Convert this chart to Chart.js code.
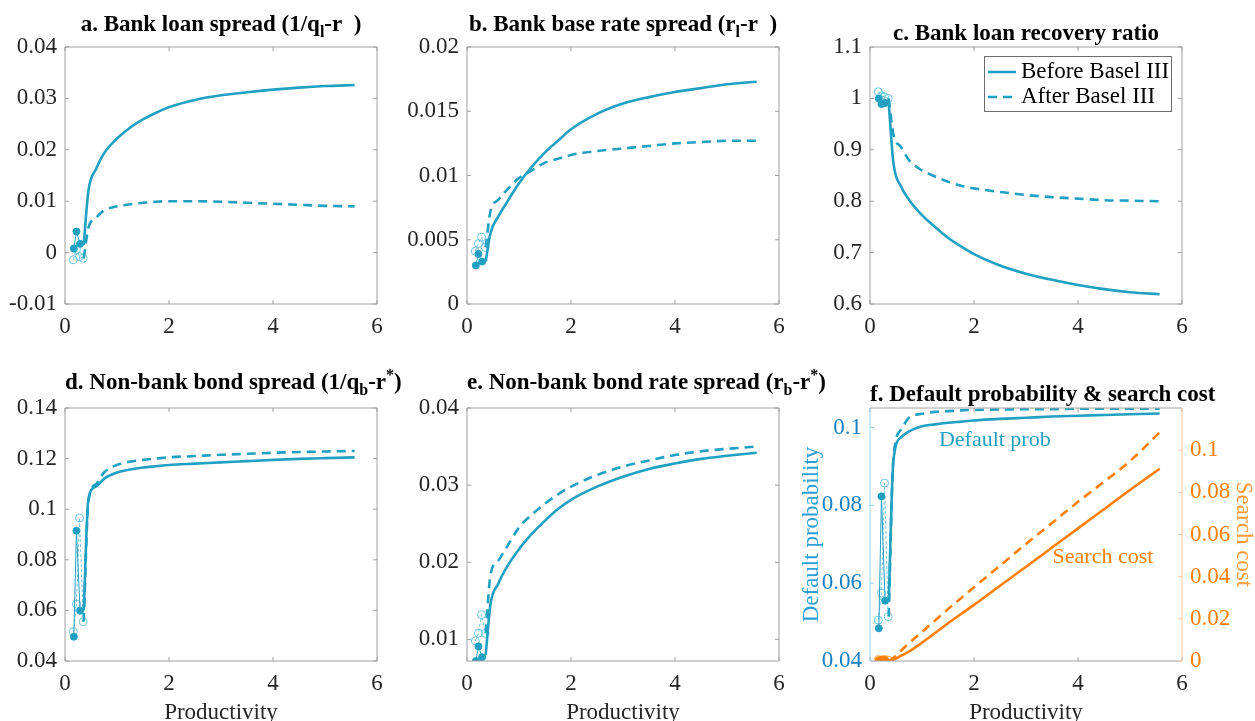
<!DOCTYPE html>
<html>
<head>
<meta charset="utf-8">
<script src="https://cdn.jsdelivr.net/npm/chart.js@4.4.1/dist/chart.umd.min.js"></script>
<style>
html, body { margin: 0; padding: 0; background: #fff; overflow: hidden; width: 1255px; height: 721px; }
canvas { position: absolute; }
.ttl { position: absolute; text-align: center; font: bold 23px "Liberation Serif", serif; color: #000; white-space: nowrap; line-height: 26px; }
.ttl sub, .ttl sup { font-size: 16px; line-height: 0; }
</style>
</head>
<body>
<script>
// productivity grid of the model curves
const prod = [0.36, 0.45, 0.6, 0.75, 1, 1.25, 1.5, 1.75, 2, 2.5, 3, 3.5, 4, 4.5, 5, 5.57];
// low productivity (multiple equilibria) points
const markXBefore = [0.17, 0.22, 0.29];
const markXAfter = [0.16, 0.22, 0.28, 0.35];
const xTicks = [0, 2, 4, 6];

// a. bank loan spread
const loanSpreadBefore = [0.0015, 0.012, 0.0163, 0.0193, 0.0222, 0.0243, 0.0259, 0.0272, 0.0283, 0.0297, 0.0306, 0.0312, 0.0317, 0.0321, 0.0324, 0.0326];
const loanSpreadAfter = [-0.0011, 0.0048, 0.0068, 0.0082, 0.009, 0.0094, 0.0097, 0.0099, 0.01, 0.01, 0.0099, 0.0097, 0.0095, 0.0093, 0.0091, 0.009];
const loanSpreadMarkBefore = [0.0008, 0.0041, 0.0017];
const loanSpreadMarkAfter = [-0.0014, 0.0006, -0.0008, -0.0011];
const loanSpreadTicks = [-0.01, 0, 0.01, 0.02, 0.03, 0.04];

// b. bank base rate spread
const baseRateBefore = [0.0033, 0.0055, 0.0068, 0.0078, 0.0094, 0.0107, 0.0118, 0.0127, 0.0136, 0.0148, 0.0156, 0.0161, 0.0165, 0.0168, 0.0171, 0.0173];
const baseRateAfter = [0.0044, 0.0072, 0.0081, 0.0088, 0.0098, 0.0104, 0.011, 0.0113, 0.0116, 0.0119, 0.0121, 0.0123, 0.0125, 0.0126, 0.0127, 0.0127];
const baseRateMarkBefore = [0.003, 0.0039, 0.0033];
const baseRateMarkAfter = [0.0041, 0.0047, 0.0052, 0.0044];
const baseRateTicks = [0, 0.005, 0.01, 0.015, 0.02];

// c. bank loan recovery ratio
const recoveryBefore = [0.991, 0.875, 0.828, 0.803, 0.773, 0.75, 0.729, 0.712, 0.697, 0.675, 0.659, 0.647, 0.637, 0.629, 0.623, 0.619];
const recoveryAfter = [1.0, 0.93, 0.905, 0.88, 0.86, 0.848, 0.838, 0.83, 0.825, 0.818, 0.812, 0.808, 0.805, 0.802, 0.801, 0.8];
const recoveryMarkBefore = [1.0, 0.989, 0.991];
const recoveryMarkAfter = [1.013, 1.005, 1.003, 1.0];
const recoveryTicks = [0.6, 0.7, 0.8, 0.9, 1, 1.1];

// d. non-bank bond spread
const bondSpreadBefore = [0.06, 0.104, 0.109, 0.112, 0.1145, 0.1157, 0.1165, 0.117, 0.1175, 0.118, 0.1185, 0.119, 0.1195, 0.1199, 0.1202, 0.1205];
const bondSpreadAfter = [0.0555, 0.103, 0.11, 0.1145, 0.1175, 0.1188, 0.1195, 0.12, 0.1205, 0.121, 0.1215, 0.1219, 0.1223, 0.1226, 0.1228, 0.123];
const bondSpreadMarkBefore = [0.0496, 0.0915, 0.0599];
const bondSpreadMarkAfter = [0.0516, 0.0625, 0.0965, 0.0555];
const bondSpreadTicks = [0.04, 0.06, 0.08, 0.1, 0.12, 0.14];

// e. non-bank bond rate spread
const bondRateBefore = [0.008, 0.0145, 0.0172, 0.0192, 0.0217, 0.0237, 0.0254, 0.0269, 0.0281, 0.0298, 0.0311, 0.0321, 0.0328, 0.0334, 0.0338, 0.0342];
const bondRateAfter = [0.0108, 0.0183, 0.0202, 0.0218, 0.0245, 0.0262, 0.0276, 0.0288, 0.0298, 0.0313, 0.0324, 0.0332, 0.0339, 0.0344, 0.0347, 0.035];
const bondRateMarkBefore = [0.0072, 0.0091, 0.0077];
const bondRateMarkAfter = [0.0098, 0.0108, 0.0132, 0.0108];
const bondRateTicks = [0.01, 0.02, 0.03, 0.04];

// f. default probability & search cost
const defaultBefore = [0.0555, 0.0915, 0.0975, 0.099, 0.1003, 0.1008, 0.1012, 0.1015, 0.1018, 0.1022, 0.1025, 0.1028, 0.103, 0.1032, 0.1034, 0.1036];
const defaultAfter = [0.0514, 0.092, 0.0995, 0.1025, 0.1035, 0.104, 0.1042, 0.1044, 0.1045, 0.1046, 0.1047, 0.1047, 0.1048, 0.1048, 0.1048, 0.1048];
const defaultMarkBefore = [0.0484, 0.0823, 0.0555];
const defaultMarkAfter = [0.0505, 0.0575, 0.0857, 0.0514];
const defaultTicks = [0.04, 0.06, 0.08, 0.1];
const searchBefore = [0, 0.0005, 0.0025, 0.0045, 0.0087, 0.0133, 0.0179, 0.0223, 0.0266, 0.0357, 0.0447, 0.0538, 0.0629, 0.072, 0.0811, 0.0912];
const searchAfter = [0, 0.0015, 0.005, 0.0085, 0.0138, 0.0192, 0.0246, 0.0298, 0.035, 0.0452, 0.0555, 0.0655, 0.0755, 0.085, 0.0948, 0.1085];
const searchMarkBefore = [0.0004, 0.0006, 0.0005];
const searchMarkAfter = [0.0007, 0.0005, 0.0008, 0.0004];
const searchTicks = [0, 0.02, 0.04, 0.06, 0.08, 0.1];

const TEAL = '#22A0C2', TEAL_LIGHT = '#6CC5E0';
const ORANGE = '#FF8000', ORANGE_LIGHT = '#FFAA55';
const AXIS = '#A0A0A0', TXT = '#262626';
const SERIF = '"Liberation Serif", "Times New Roman", serif';
const tickFont = { family: SERIF, size: 23 };

const pts = (xs, ys) => xs.map((x, i) => ({ x: x, y: ys[i] }));
const fmt = v => String(parseFloat(Number(v).toFixed(4)));

function seriesSets(before, after, markB, markA, col, colLight, axis) {
  return [
    { label: 'Before Basel III', data: pts(prod, before), borderColor: col, borderWidth: 2.6,
      pointRadius: 0, cubicInterpolationMode: 'monotone', yAxisID: axis },
    { label: 'After Basel III', data: pts(prod, after), borderColor: col, borderWidth: 2.6, borderDash: [9, 6],
      pointRadius: 0, cubicInterpolationMode: 'monotone', yAxisID: axis },
    { label: 'low before', data: pts(markXBefore, markB).concat([{ x: prod[0], y: before[0] }]),
      borderColor: col, borderWidth: 1, pointRadius: [3.5, 3.5, 3.5, 0],
      pointBackgroundColor: col, pointBorderColor: col, yAxisID: axis },
    { label: 'low after', data: pts(markXAfter, markA), borderColor: colLight, borderWidth: 1, borderDash: [3, 2],
      pointRadius: 4, pointBackgroundColor: 'rgba(255,255,255,0)', pointBorderColor: colLight,
      pointBorderWidth: 1, yAxisID: axis }
  ];
}

function line(ctx, x1, y1, x2, y2) {
  ctx.beginPath(); ctx.moveTo(x1, y1); ctx.lineTo(x2, y2); ctx.stroke();
}

// matlab style box with inward ticks
const boxPlugin = {
  id: 'matBox',
  afterDatasetsDraw(chart, args, o) {
    const { ctx, chartArea: a, scales } = chart;
    const tl = 4;
    ctx.save();
    ctx.lineWidth = 1;
    ctx.strokeStyle = AXIS;
    line(ctx, a.left, a.top, a.right, a.top);
    line(ctx, a.left, a.bottom, a.right, a.bottom);
    for (const t of scales.x.ticks) {
      const x = scales.x.getPixelForValue(t.value);
      line(ctx, x, a.bottom, x, a.bottom - tl);
      line(ctx, x, a.top, x, a.top + tl);
    }
    ctx.strokeStyle = o.leftColor || AXIS;
    line(ctx, a.left, a.top, a.left, a.bottom);
    for (const t of scales.y.ticks) {
      const y = scales.y.getPixelForValue(t.value);
      line(ctx, a.left, y, a.left + tl, y);
      if (!scales.y2) line(ctx, a.right, y, a.right - tl, y);
    }
    ctx.strokeStyle = o.rightColor || AXIS;
    line(ctx, a.right, a.top, a.right, a.bottom);
    if (scales.y2) {
      for (const t of scales.y2.ticks) {
        const y = scales.y2.getPixelForValue(t.value);
        line(ctx, a.right, y, a.right - tl, y);
      }
    }
    ctx.restore();
  }
};

// boxed legend inside the axes (top right)
const legendPlugin = {
  id: 'boxLegend',
  afterDraw(chart, args, o) {
    if (!o.show) return;
    const { ctx, chartArea: a } = chart;
    const w = 187, h = 55, x0 = a.right - 11 - w, y0 = a.top + 9;
    ctx.save();
    ctx.fillStyle = '#fff';
    ctx.fillRect(x0, y0, w, h);
    ctx.strokeStyle = '#6E6E6E';
    ctx.lineWidth = 1;
    ctx.strokeRect(x0 + 0.5, y0 + 0.5, w, h);
    chart.data.datasets.slice(0, 2).forEach((ds, i) => {
      const cy = y0 + 16 + i * 25;
      ctx.strokeStyle = ds.borderColor;
      ctx.lineWidth = ds.borderWidth;
      ctx.setLineDash(ds.borderDash || []);
      line(ctx, x0 + 4, cy, x0 + 32, cy);
      ctx.setLineDash([]);
      ctx.fillStyle = '#000';
      ctx.font = '23px ' + SERIF;
      ctx.textBaseline = 'middle';
      ctx.fillText(ds.label, x0 + 37, cy);
    });
    ctx.restore();
  }
};

// text notes placed in data coordinates
const notePlugin = {
  id: 'notes',
  afterDatasetsDraw(chart, args, o) {
    if (!o.items) return;
    const { ctx, scales } = chart;
    ctx.save();
    ctx.font = '22px ' + SERIF;
    ctx.textAlign = 'center';
    ctx.textBaseline = 'middle';
    for (const n of o.items) {
      ctx.fillStyle = n.color;
      ctx.fillText(n.text, scales.x.getPixelForValue(n.x), scales[n.axis].getPixelForValue(n.y));
    }
    ctx.restore();
  }
};

Chart.register(boxPlugin, legendPlugin, notePlugin);

function yScale(min, max, ticks, width, pos, color, title, titleColor) {
  return {
    type: 'linear', position: pos, min: min, max: max,
    afterBuildTicks: s => { s.ticks = ticks.map(v => ({ value: v })); },
    afterFit: s => { s.width = width; },
    ticks: { font: tickFont, color: color, padding: 8, autoSkip: false, callback: fmt },
    grid: { display: false, drawTicks: false }, border: { display: false },
    title: { display: !!title, text: title || '', color: titleColor, font: tickFont, padding: { top: 4, bottom: 4 } }
  };
}

function panel(p) {
  const padTop = 30, padRight = p.rW ? 0 : 16;
  const [bl, bt, br, bb] = p.box;
  const c = document.createElement('canvas');
  c.width = br - bl + p.yW + (p.rW || padRight);
  c.height = bb - bt + padTop + p.xH;
  c.style.left = (bl - p.yW) + 'px';
  c.style.top = (bt - padTop) + 'px';
  document.body.appendChild(c);

  const scales = {
    x: {
      type: 'linear', min: 0, max: 6,
      afterBuildTicks: s => { s.ticks = xTicks.map(v => ({ value: v })); },
      afterFit: s => { s.height = p.xH; },
      ticks: { font: tickFont, color: TXT, padding: 9, maxRotation: 0, autoSkip: false, callback: fmt },
      grid: { display: false, drawTicks: false }, border: { display: false },
      title: { display: !!p.xTitle, text: 'Productivity', color: TXT, font: tickFont, padding: { top: 4, bottom: 4 } }
    },
    y: yScale(p.y[0], p.y[1], p.yTicks, p.yW, 'left', p.yColor || TXT, p.yTitle, p.yTitleColor)
  };
  if (p.y2) scales.y2 = yScale(p.y2[0], p.y2[1], p.y2Ticks, p.rW, 'right', ORANGE, 'Search cost', '#FF9A3C');

  new Chart(c, {
    type: 'line',
    data: { datasets: p.datasets },
    options: {
      responsive: false, animation: false, devicePixelRatio: 1,
      layout: { padding: { top: padTop, right: padRight, left: 0, bottom: 0 } },
      scales: scales,
      plugins: {
        legend: { display: false }, tooltip: { enabled: false },
        matBox: { leftColor: p.leftColor, rightColor: p.rightColor },
        boxLegend: { show: !!p.legend },
        notes: { items: p.notes }
      }
    }
  });

  const t = document.createElement('div');
  t.className = 'ttl';
  t.style.left = bl + 'px';
  t.style.width = (br - bl) + 'px';
  t.style.top = p.titleTop + 'px';
  t.innerHTML = p.title;
  document.body.appendChild(t);
}

panel({ box: [65, 47, 377, 304], yW: 65, xH: 36, titleTop: 11,
  title: 'a. Bank loan spread (1/q<sub>l</sub>-r&nbsp;&nbsp;)',
  y: [-0.01, 0.04], yTicks: loanSpreadTicks,
  datasets: seriesSets(loanSpreadBefore, loanSpreadAfter, loanSpreadMarkBefore, loanSpreadMarkAfter, TEAL, TEAL_LIGHT, 'y') });

panel({ box: [467, 47, 779, 304], yW: 65, xH: 36, titleTop: 11,
  title: 'b. Bank base rate spread (r<sub>l</sub>-r&nbsp;&nbsp;)',
  y: [0, 0.02], yTicks: baseRateTicks,
  datasets: seriesSets(baseRateBefore, baseRateAfter, baseRateMarkBefore, baseRateMarkAfter, TEAL, TEAL_LIGHT, 'y') });

panel({ box: [870, 47, 1182, 304], yW: 65, xH: 36, titleTop: 20, legend: true,
  title: 'c. Bank loan recovery ratio',
  y: [0.6, 1.1], yTicks: recoveryTicks,
  datasets: seriesSets(recoveryBefore, recoveryAfter, recoveryMarkBefore, recoveryMarkAfter, TEAL, TEAL_LIGHT, 'y') });

panel({ box: [65, 408, 377, 661], yW: 65, xH: 70, xTitle: true, titleTop: 369,
  title: 'd. Non-bank bond spread (1/q<sub>b</sub>-r<sup>*</sup>)',
  y: [0.04, 0.14], yTicks: bondSpreadTicks,
  datasets: seriesSets(bondSpreadBefore, bondSpreadAfter, bondSpreadMarkBefore, bondSpreadMarkAfter, TEAL, TEAL_LIGHT, 'y') });

panel({ box: [467, 408, 779, 661], yW: 65, xH: 70, xTitle: true, titleTop: 369,
  title: 'e. Non-bank bond rate spread (r<sub>b</sub>-r<sup>*</sup>)',
  y: [0.0072, 0.04], yTicks: bondRateTicks,
  datasets: seriesSets(bondRateBefore, bondRateAfter, bondRateMarkBefore, bondRateMarkAfter, TEAL, TEAL_LIGHT, 'y') });

panel({ box: [870, 408, 1182, 661], yW: 76, rW: 79, xH: 70, xTitle: true, titleTop: 381,
  title: 'f. Default probability &amp; search cost',
  y: [0.04, 0.105], yTicks: defaultTicks, yColor: '#1A80C4', yTitle: 'Default probability', yTitleColor: '#2E9FD4',
  y2: [0, 0.12], y2Ticks: searchTicks,
  leftColor: '#9ACFEA', rightColor: '#F7C9A6',
  notes: [{ text: 'Default prob', x: 2.4, y: 0.0967, axis: 'y', color: TEAL },
          { text: 'Search cost', x: 4.48, y: 0.049, axis: 'y2', color: ORANGE }],
  datasets: seriesSets(defaultBefore, defaultAfter, defaultMarkBefore, defaultMarkAfter, TEAL, TEAL_LIGHT, 'y')
    .concat(seriesSets(searchBefore, searchAfter, searchMarkBefore, searchMarkAfter, ORANGE, ORANGE_LIGHT, 'y2')) });
</script>
</body>
</html>
